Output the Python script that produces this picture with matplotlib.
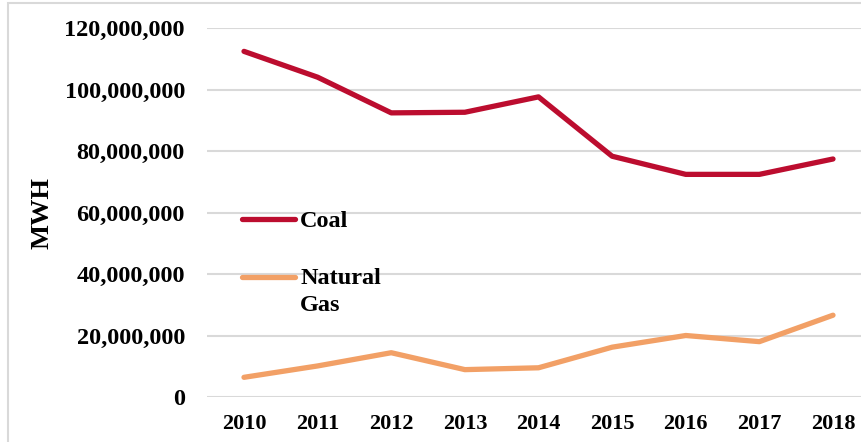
import numpy as np
import matplotlib
matplotlib.use('Agg')
import matplotlib.pyplot as plt
from matplotlib.ticker import FuncFormatter
from matplotlib.legend_handler import HandlerLine2D
from matplotlib.patches import Rectangle

plt.rcParams['font.family'] = ['Liberation Serif', 'DejaVu Serif']
plt.rcParams['font.weight'] = 'bold'

# data (MWH)
years = ['2010', '2011', '2012', '2013', '2014', '2015', '2016', '2017', '2018']
coal = [112.4e6, 104.0e6, 92.4e6, 92.6e6, 97.6e6, 78.3e6, 72.4e6, 72.4e6, 77.4e6]
natural_gas = [6.4e6, 10.1e6, 14.4e6, 8.9e6, 9.5e6, 16.2e6, 20.0e6, 18.0e6, 26.6e6]

coal_color = '#BC0D2F'
gas_color = '#F2A066'
grid_color = '#D9D9D9'

W, H = 862, 442
fig = plt.figure(figsize=(W / 100, H / 100), dpi=100)

# plot area in pixels: category centres 2010 -> 244, 2018 -> 833
step = (833 - 244) / 8
left_px = 244 - step / 2
right_px = 833 + step / 2
ax = fig.add_axes([left_px / W, (H - 397) / H, (right_px - left_px) / W, (397 - 28) / H])

x = np.arange(len(years))
ax.plot(x, coal, color=coal_color, lw=3.8, solid_capstyle='round',
        solid_joinstyle='round', label='Coal', zorder=3)
ax.plot(x, natural_gas, color=gas_color, lw=3.8, solid_capstyle='round',
        solid_joinstyle='round', label='Natural\nGas', zorder=3)

ax.set_xlim(-0.5, len(years) - 0.5)
ax.set_ylim(0, 120e6)
ax.set_yticks(np.arange(0, 120e6 + 1, 20e6))
ax.yaxis.set_major_formatter(FuncFormatter(lambda v, p: f'{int(v):,}'))
ax.set_xticks(x)
ax.set_xticklabels(years)

ax.grid(axis='y', color=grid_color, lw=1.5)
ax.set_axisbelow(True)
for s in ax.spines.values():
    s.set_visible(False)
ax.tick_params(axis='y', length=0, pad=16, labelsize=17.5)
ax.tick_params(axis='x', length=0, pad=12, labelsize=16)
for lab in ax.get_xticklabels() + ax.get_yticklabels():
    lab.set_fontweight('bold')

fig.text(42 / W, 1 - 213 / H, 'MWH', rotation=90, ha='center', va='center',
         fontsize=19, fontweight='bold')


class TopHandler(HandlerLine2D):
    # put the legend line next to the first text line
    def create_artists(self, legend, orig_handle, xdescent, ydescent,
                       width, height, fontsize, trans):
        arts = super().create_artists(legend, orig_handle, xdescent, ydescent,
                                      width, height, fontsize, trans)
        n = orig_handle.get_label().count('\n')
        for a in arts:
            yd = np.asarray(a.get_ydata(), dtype=float)
            a.set_ydata(yd + n * fontsize * 0.6)
        return arts


leg = ax.legend(loc='upper left', bbox_to_anchor=((242 - left_px) / (right_px - left_px), (397 - 210) / 369),
                frameon=False, fontsize=17.5, handlelength=2.2, handletextpad=0.2,
                labelspacing=1.5, borderpad=0, borderaxespad=0,
                handler_map={matplotlib.lines.Line2D: TopHandler()})
for t in leg.get_texts():
    t.set_fontweight('bold')
    t.set_linespacing(1.35)

# light outer border (only left and top visible in the crop)
fig.patches.append(Rectangle((8 / W, -0.1), 1.2, 1.1 - 3 / H, transform=fig.transFigure,
                             fill=False, edgecolor=grid_color, lw=1.5))

fig.savefig('out.png', dpi=100)
